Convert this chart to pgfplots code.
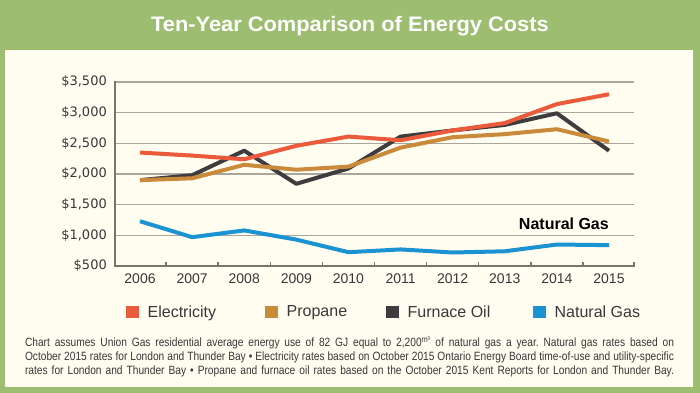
\documentclass[border=0pt]{standalone}
\usepackage{fontspec}
\setmainfont{Liberation Sans}
\newfontfamily\dejavu{DejaVu Sans}
\newfontfamily\notefont[FakeStretch=0.85]{Liberation Sans}
\usepackage{pgfplots}
\pgfplotsset{compat=1.18}
\definecolor{bggreen}{HTML}{9DBD70}
\definecolor{cream}{HTML}{FEFDF0}
\definecolor{elec}{HTML}{EC5A3C}
\definecolor{prop}{HTML}{C98B3B}
\definecolor{oil}{HTML}{3D3C3E}
\definecolor{gas}{HTML}{1B93D2}
\definecolor{gridc}{HTML}{ABA69D}
\definecolor{axisc}{HTML}{7B736D}
\definecolor{tickc}{HTML}{383838}
\frenchspacing
\begin{document}
\begin{tikzpicture}
\useasboundingbox (0,0) rectangle (700bp,393bp);
\fill[bggreen] (0,0) rectangle (700bp,393bp);
\fill[cream] (5bp,6bp) rectangle (693bp,343bp);
\node[anchor=base, text=white, inner sep=0pt] at (350bp,361bp)
  {\scalebox{1.04}[1]{\fontsize{21bp}{24bp}\selectfont\bfseries Ten-Year Comparison of Energy Costs}};
\begin{axis}[
  at={(115bp,127bp)}, anchor=south west,
  scale only axis, width=519bp, height=184bp,
  xmin=2005.52, xmax=2015.48, ymin=500, ymax=3500,
  clip=false,
  axis x line*=bottom, axis y line*=left,
  axis line style={draw=axisc, line width=2.5bp, -, line cap=rect},
  xtick={2006,2007,2008,2009,2010,2011,2012,2013,2014,2015},
  xticklabels={2006,2007,2008,2009,2010,2011,2012,2013,2014,2015},
  minor xtick={2006.5,2007.5,2008.5,2009.5,2010.5,2011.5,2012.5,2013.5,2014.5,2015.48},
  ytick={500,1000,1500,2000,2500,3000,3500},
  yticklabels={{\$500},{\$1,000},{\$1,500},{\$2,000},{\$2,500},{\$3,000},{\$3,500}},
  major tick length=0pt, minor tick length=3.5bp, tick align=inside,
  every minor tick/.style={line width=1.5bp, draw=axisc},
  ymajorgrids,
  major grid style={line width=1.5bp, draw=gridc},
  xticklabel style={font=\fontsize{14bp}{16bp}\selectfont, text=tickc, inner sep=0pt, anchor=north, yshift=-8bp},
  yticklabel style={font=\dejavu\fontsize{13bp}{15bp}\selectfont, text=tickc, inner sep=0pt, anchor=east, xshift=-8bp},
  legend columns=4,
  legend image code/.code={\fill[#1, draw=none] (0bp,-6bp) rectangle (13bp,6bp);},
  legend style={draw=none, fill=none, at={(0.0154,-0.25)}, anchor=west,
    font=\fontsize{16bp}{18bp}\selectfont, text=tickc,
    nodes={inner sep=0pt},
    /tikz/every odd column/.append style={column sep=8.5bp},
    /tikz/every even column/.append style={column sep=43.5bp}},
  every axis plot/.append style={line width=4bp, line join=round, no markers},
]
\addlegendimage{color=elec}\addlegendentry{\makebox[74bp][l]{Electricity}}
\addlegendimage{color=prop}\addlegendentry{\makebox[56bp][l]{Propane}}
\addlegendimage{color=oil}\addlegendentry{\makebox[82bp][l]{Furnace Oil}}
\addlegendimage{color=gas}\addlegendentry{\makebox[84bp][l]{Natural Gas}}
% Furnace Oil
\addplot[color=oil, forget plot] coordinates {
 (2006,1900) (2007,1980) (2008,2380) (2009,1840) (2010,2090)
 (2011,2610) (2012,2710) (2013,2800) (2014,2990) (2015,2380)};
% Propane
\addplot[color=prop, forget plot] coordinates {
 (2006,1900) (2007,1930) (2008,2150) (2009,2070) (2010,2120)
 (2011,2430) (2012,2600) (2013,2650) (2014,2730) (2015,2530)};
% Electricity
\addplot[color=elec, forget plot] coordinates {
 (2006,2350) (2007,2300) (2008,2240) (2009,2460) (2010,2610)
 (2011,2550) (2012,2710) (2013,2830) (2014,3140) (2015,3300)};
% Natural Gas
\addplot[color=gas, forget plot] coordinates {
 (2006,1230) (2007,970) (2008,1080) (2009,930) (2010,725)
 (2011,770) (2012,720) (2013,740) (2014,850) (2015,840)};
\node[anchor=base east, inner sep=0pt, font=\fontsize{16bp}{18bp}\selectfont\bfseries, text=black]
  at (axis cs:2015,1087) {Natural Gas};
\end{axis}
\node[anchor=center, inner sep=0pt, text=tickc] at (349.5bp,36bp) {\parbox{649bp}{\notefont\fontsize{12bp}{14bp}\selectfont\frenchspacing
\makebox[649bp][s]{Chart assumes Union Gas residential average energy use of 82 GJ equal to 2,200\textsuperscript{m³} of natural gas a year. Natural gas rates based on}\\
\makebox[649bp][s]{October 2015 rates for London and Thunder Bay • Electricity rates based on October 2015 Ontario Energy Board time-of-use and utility-specific}\\
\makebox[649bp][s]{rates for London and Thunder Bay • Propane and furnace oil rates based on the October 2015 Kent Reports for London and Thunder Bay.}}};
\end{tikzpicture}
\end{document}
